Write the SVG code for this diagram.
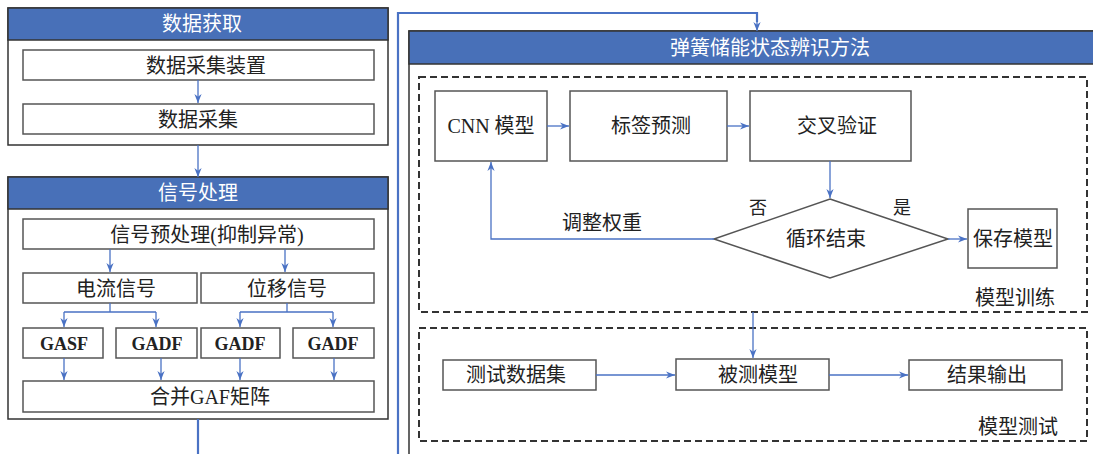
<svg xmlns="http://www.w3.org/2000/svg" width="1093" height="454" viewBox="0 0 1093 454">
<defs>
<style>
.t{font-family:"Liberation Serif","Noto Sans CJK SC",serif;font-size:20px;fill:#222;text-anchor:middle;dominant-baseline:central}
.h{font-family:"Liberation Serif","Noto Sans CJK SC",serif;font-size:20px;fill:#fff;text-anchor:middle;dominant-baseline:central}
.b{font-family:"Liberation Serif",serif;font-size:18px;font-weight:bold;fill:#222;text-anchor:middle;dominant-baseline:central}
.box{fill:#fff;stroke:#555;stroke-width:1.5}
.panel{fill:#fff;stroke:#333;stroke-width:1.5}
.hdr{fill:#4870b8;stroke:#333;stroke-width:1.5}
.dash{fill:none;stroke:#333;stroke-width:2;stroke-dasharray:7,4}
.c{fill:none;stroke:#4a72c4;stroke-width:1.3}
.ca{fill:none;stroke:#4a72c4;stroke-width:1.3;marker-end:url(#arr)}
.thick{fill:none;stroke:#4a72c4;stroke-width:2.2}
</style>
<marker id="arr" viewBox="0 0 10 10" refX="10" refY="5" markerWidth="9" markerHeight="9" orient="auto" markerUnits="userSpaceOnUse">
<path d="M0,1 L10,5 L0,9 L3,5 z" fill="#4a72c4"/>
</marker>
</defs>
<rect width="1093" height="454" fill="#fff"/>

<g id="panel-acquire">
<rect class="panel" x="8" y="8" width="380" height="137"/>
<rect class="hdr" x="8" y="8" width="380" height="32"/>
<text class="h" x="202" y="24">数据获取</text>
</g>
<g id="n-device"><rect class="box" x="23" y="50" width="351" height="30"/><text class="t" x="206" y="66">数据采集装置</text></g>
<g id="n-collect"><rect class="box" x="23" y="104" width="351" height="30"/><text class="t" x="198" y="120">数据采集</text></g>

<g id="panel-signal">
<rect class="panel" x="8" y="177" width="380" height="242"/>
<rect class="hdr" x="8" y="177" width="380" height="32"/>
<text class="h" x="198" y="193">信号处理</text>
</g>
<g id="n-pre"><rect class="box" x="23" y="219" width="351" height="30"/><text class="t" x="207" y="235">信号预处理(抑制异常)</text></g>
<g id="n-cur"><rect class="box" x="23" y="273" width="174" height="30"/><text class="t" x="116" y="289">电流信号</text></g>
<g id="n-disp"><rect class="box" x="201" y="273" width="173" height="30"/><text class="t" x="287" y="289">位移信号</text></g>
<g id="n-gasf"><rect class="box" x="23" y="328" width="80" height="30"/><text class="b" x="64" y="344">GASF</text></g>
<g id="n-gadf1"><rect class="box" x="116" y="328" width="81" height="30"/><text class="b" x="157" y="344">GADF</text></g>
<g id="n-gadf2"><rect class="box" x="201" y="328" width="79" height="30"/><text class="b" x="240" y="344">GADF</text></g>
<g id="n-gadf3"><rect class="box" x="293" y="328" width="81" height="30"/><text class="b" x="333" y="344">GADF</text></g>
<g id="n-merge"><rect class="box" x="23" y="381" width="351" height="31"/><text class="t" x="210" y="397">合并GAF矩阵</text></g>

<g id="panel-method">
<rect class="panel" x="409" y="31" width="700" height="440"/>
<rect class="hdr" x="409" y="31" width="700" height="33"/>
<text class="h" x="770" y="48">弹簧储能状态辨识方法</text>
</g>
<g id="group-train">
<rect class="dash" x="419" y="77" width="668" height="235"/>
<text class="t" x="1015" y="298">模型训练</text>
</g>
<g id="group-test">
<rect class="dash" x="419" y="328" width="668" height="113"/>
<text class="t" x="1018" y="427">模型测试</text>
</g>
<g id="n-cnn"><rect class="box" x="435" y="91" width="112" height="70"/><text class="t" x="491" y="126">CNN 模型</text></g>
<g id="n-label"><rect class="box" x="570" y="91" width="157" height="70"/><text class="t" x="651" y="126">标签预测</text></g>
<g id="n-cv"><rect class="box" x="750" y="91" width="161" height="70"/><text class="t" x="837" y="126">交叉验证</text></g>
<g id="n-loop"><polygon points="830,199 948,239 830,278 714,239" fill="#fff" stroke="#555" stroke-width="1.5"/><text class="t" x="826" y="239">循环结束</text></g>
<g id="n-save"><rect class="box" x="968" y="209" width="89" height="59"/><text class="t" x="1013" y="239">保存模型</text></g>
<g id="n-testset"><rect class="box" x="443" y="360" width="153" height="30"/><text class="t" x="516" y="375">测试数据集</text></g>
<g id="n-tested"><rect class="box" x="676" y="359" width="153" height="31"/><text class="t" x="758" y="375">被测模型</text></g>
<g id="n-out"><rect class="box" x="909" y="360" width="153" height="30"/><text class="t" x="987" y="375">结果输出</text></g>

<g id="connectors">
<path class="ca" d="M198,80 V103"/>
<path class="ca" d="M198,145 V177"/>
<path class="ca" d="M110,249 V272"/>
<path class="ca" d="M285,249 V272"/>
<path class="c" d="M110,303 V312 M64,312 H156 M287,303 V312 M240,312 H333"/>
<path class="ca" d="M64,312 V327"/>
<path class="ca" d="M156,312 V327"/>
<path class="ca" d="M240,312 V327"/>
<path class="ca" d="M333,312 V327"/>
<path class="ca" d="M64,358 V380"/>
<path class="ca" d="M161,358 V380"/>
<path class="ca" d="M240,358 V380"/>
<path class="ca" d="M334,358 V380"/>
<path class="thick" d="M198,419 V454"/>
<path class="thick" d="M398,454 V13 H757 V22"/>
<path class="ca" d="M757,20 V31"/>
<path class="ca" d="M547,126 H569"/>
<path class="ca" d="M727,126 H749"/>
<path class="ca" d="M830,161 V198"/>
<path class="ca" d="M948,239 H967"/>
<path class="ca" d="M714,239 H491 V162"/>
<path class="ca" d="M753,312 V358"/>
<path class="ca" d="M596,375 H675"/>
<path class="ca" d="M829,375 H908"/>
<text class="t" x="602" y="223">调整权重</text>
<text class="t" x="758" y="208" style="font-size:18px">否</text>
<text class="t" x="902" y="208" style="font-size:18px">是</text>
</g>
</svg>
